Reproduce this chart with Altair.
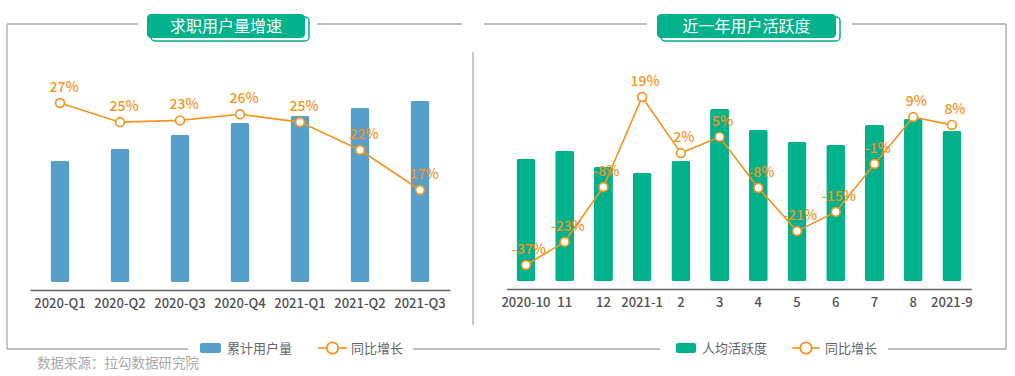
import altair as alt
import pandas as pd

# ---------------- data ----------------
quarters = ["2020-Q1", "2020-Q2", "2020-Q3", "2020-Q4", "2021-Q1", "2021-Q2", "2021-Q3"]
users = [121, 133, 147, 159, 166, 174, 181]                 # 累计用户量 (relative)
user_growth = [27.0, 24.8, 25.0, 25.7, 24.8, 21.6, 17.0]    # 同比增长 (plotted position)
user_growth_labels = ["27%", "25%", "23%", "26%", "25%", "22%", "17%"]

months = ["2020-10", "11", "12", "2021-1", "2", "3", "4", "5", "6", "7", "8", "2021-9"]
activity = [122, 130, 114, 108, 120, 172, 151, 139, 136, 156, 162, 150]   # 人均活跃度 (relative)
activity_growth = [-37, -29.3, -11, 19, 0.3, 5.7, -11.3, -25.7, -19.3, -3.3, 12.3, 9.7]
activity_growth_labels = ["-37%", "-23%", "-8%", "19%", "2%", "5%", "-8%", "-21%", "-15%", "-1%", "9%", "8%"]

FONT = "Noto Sans CJK SC"
BLUE = "#579FCB"
GREEN = "#00B28B"
ORANGE = "#F7931E"
FRAME = "#AAAAAA"

left_df = pd.DataFrame({"q": quarters, "users": users, "g": user_growth, "lab": user_growth_labels})
right_df = pd.DataFrame({"m": months, "act": activity, "g": activity_growth, "lab": activity_growth_labels})
one = pd.DataFrame({"a": [0]})

# ---------------- scales ----------------
xL = alt.Scale(domain=quarters, range=[30, 450], paddingInner=0, paddingOuter=0)
yBarL = alt.Scale(domain=[0, 200], range=[282, 82])
yLineL = alt.Scale(domain=[15, 30], range=[207.4, 76.9])

xR = alt.Scale(domain=months, range=[506.6, 971.3], paddingInner=0, paddingOuter=0)
yBarR = alt.Scale(domain=[0, 200], range=[281, 81])
yLineR = alt.Scale(domain=[-40, 25], range=[274, 79])


def xaxis(offset):
    return alt.Axis(orient="bottom", offset=offset, title=None, ticks=False, grid=False,
                    domainColor="#666666", domainWidth=1.5, labelAngle=0, labelPadding=7,
                    labelFont=FONT, labelFontSize=13, labelFontWeight=500,
                    labelColor="#505050", labelOverlap=False)


layers = []

# ---------------- left panel ----------------
baseL = alt.Chart(left_df)
layers.append(baseL.mark_bar(color=BLUE, size=19, cornerRadius=2).encode(
    x=alt.X("q:N", scale=xL, axis=xaxis(-86), sort=quarters),
    y=alt.Y("users:Q", scale=yBarL, axis=None)))
layers.append(baseL.mark_line(color=ORANGE, strokeWidth=1.6).encode(
    x=alt.X("q:N", scale=xL, axis=None, sort=quarters),
    y=alt.Y("g:Q", scale=yLineL, axis=None)))
layers.append(baseL.mark_point(filled=True, fill="white", stroke=ORANGE, strokeWidth=1.7,
                               size=78, opacity=1).encode(
    x=alt.X("q:N", scale=xL, axis=None, sort=quarters),
    y=alt.Y("g:Q", scale=yLineL, axis=None)))
layers.append(baseL.mark_text(color=ORANGE, font=FONT, fontSize=14, fontWeight=500, dy=-15, dx=4,
                              baseline="middle", align="center").encode(
    x=alt.X("q:N", scale=xL, axis=None, sort=quarters),
    y=alt.Y("g:Q", scale=yLineL, axis=None),
    text="lab:N"))

# ---------------- right panel ----------------
baseR = alt.Chart(right_df)
layers.append(baseR.mark_bar(color=GREEN, size=19, cornerRadius=2).encode(
    x=alt.X("m:N", scale=xR, axis=xaxis(-87), sort=months),
    y=alt.Y("act:Q", scale=yBarR, axis=None)))
layers.append(baseR.mark_line(color=ORANGE, strokeWidth=1.6).encode(
    x=alt.X("m:N", scale=xR, axis=None, sort=months),
    y=alt.Y("g:Q", scale=yLineR, axis=None)))
layers.append(baseR.mark_point(filled=True, fill="white", stroke=ORANGE, strokeWidth=1.7,
                               size=78, opacity=1).encode(
    x=alt.X("m:N", scale=xR, axis=None, sort=months),
    y=alt.Y("g:Q", scale=yLineR, axis=None)))
layers.append(baseR.mark_text(color=ORANGE, font=FONT, fontSize=14, fontWeight=500, dy=-15, dx=3,
                              baseline="middle", align="center").encode(
    x=alt.X("m:N", scale=xR, axis=None, sort=months),
    y=alt.Y("g:Q", scale=yLineR, axis=None),
    text="lab:N"))


# ---------------- decorations ----------------
def rule(x1, y1, x2, y2, color=FRAME, w=1.3):
    return alt.Chart(one).mark_rule(color=color, strokeWidth=w).encode(
        x=alt.value(x1), x2=alt.value(x2), y=alt.value(y1), y2=alt.value(y2))


def rect(x1, y1, x2, y2, fill, stroke=None, sw=0, r=0):
    kw = dict(fill=fill, cornerRadius=r, opacity=1)
    if stroke:
        kw.update(stroke=stroke, strokeWidth=sw)
    return alt.Chart(one).mark_rect(**kw).encode(
        x=alt.value(x1), x2=alt.value(x2), y=alt.value(y1), y2=alt.value(y2))


def text(x, y, s, size, color, align="center"):
    return alt.Chart(one).mark_text(text=s, font=FONT, fontSize=size, color=color,
                                    align=align, baseline="middle").encode(
        x=alt.value(x), y=alt.value(y))


def marker(x, y, size=130):
    return alt.Chart(one).mark_point(filled=True, fill="white", stroke=ORANGE, strokeWidth=1.8,
                                     size=size, opacity=1).encode(x=alt.value(x), y=alt.value(y))


deco = [
    # frame
    rule(7, 24, 7, 349), rule(7, 24, 138, 24), rule(317, 24, 462, 24), rule(484, 24, 647, 24),
    rule(852, 24, 1006, 24), rule(1006, 24, 1006, 349),
    rule(7, 349, 188, 349), rule(413, 349, 660, 349), rule(888, 349, 1006, 349),
    rule(473, 52, 473, 325),
    # title boxes
    rect(151, 17, 309, 41, "white", GREEN, 1.5, 4), rect(147, 14, 305, 38, GREEN, r=4),
    text(226, 26.5, "求职用户量增速", 16, "white"),
    rect(661, 17, 840, 41, "white", GREEN, 1.5, 4), rect(657, 14, 836, 38, GREEN, r=4),
    text(746.5, 26.5, "近一年用户活跃度", 16, "white"),
    # legends
    rect(200, 343, 221, 353, BLUE, r=2), text(227, 348.5, "累计用户量", 13, "#666666", "left"),
    rule(318, 348, 347, 348, ORANGE, 1.6), marker(332.5, 348),
    text(351, 348.5, "同比增长", 13, "#666666", "left"),
    rect(676, 343, 696, 353, GREEN, r=2), text(702, 348.5, "人均活跃度", 13, "#666666", "left"),
    rule(792, 348, 820, 348, ORANGE, 1.6), marker(806, 348),
    text(825, 348.5, "同比增长", 13, "#666666", "left"),
    # source
    text(37, 364, "数据来源：拉勾数据研究院", 13.5, "#AAAAAA", "left"),
]

chart = alt.layer(*deco, *layers).properties(
    width=1015, height=376, padding=0,
    autosize=alt.AutoSizeParams(type="none"),
    background="white",
).resolve_scale(x="independent", y="independent").configure_view(stroke=None)

chart.save("out.html", embed_options={"renderer": "svg", "actions": False})
